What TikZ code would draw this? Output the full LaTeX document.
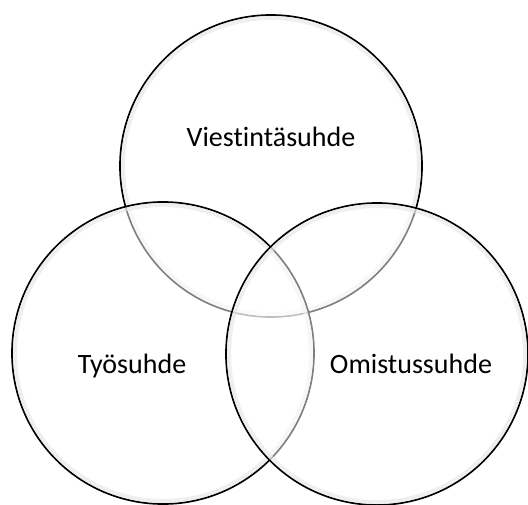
\documentclass[tikz,border=0pt]{standalone}
\usepackage{fontspec}
\setmainfont[RawFeature={-liga;-clig;-dlig;-calt}]{Carlito}
\begin{document}
\begin{tikzpicture}[x=1pt,y=-1pt,
  venn/.style={circle,minimum size=302pt,inner sep=0pt,draw=black,line width=1.7pt,fill=white,fill opacity=0.5},
  glow/.style={draw=black!10,line width=4pt,opacity=0.6},
  lbl/.style={font=\fontsize{28}{34}\selectfont,anchor=base,inner sep=0pt}]
\useasboundingbox[fill=white] (0,0) rectangle (528,504);
\node[venn] (top) at (271,166) {};
\draw[glow] (top.center) circle (148pt);
\node[venn] (left) at (163,353) {};
\draw[glow] (left.center) circle (148pt);
\node[venn] (right) at (377,354) {};
\draw[glow] (right.center) circle (148pt);
\node[lbl] (t1) at (271,146) {Viestintäsuhde};
\node[lbl] (t2) at (132,373) {Työsuhde};
\node[lbl] (t3) at (411,373) {Omistussuhde};
\end{tikzpicture}
\end{document}
